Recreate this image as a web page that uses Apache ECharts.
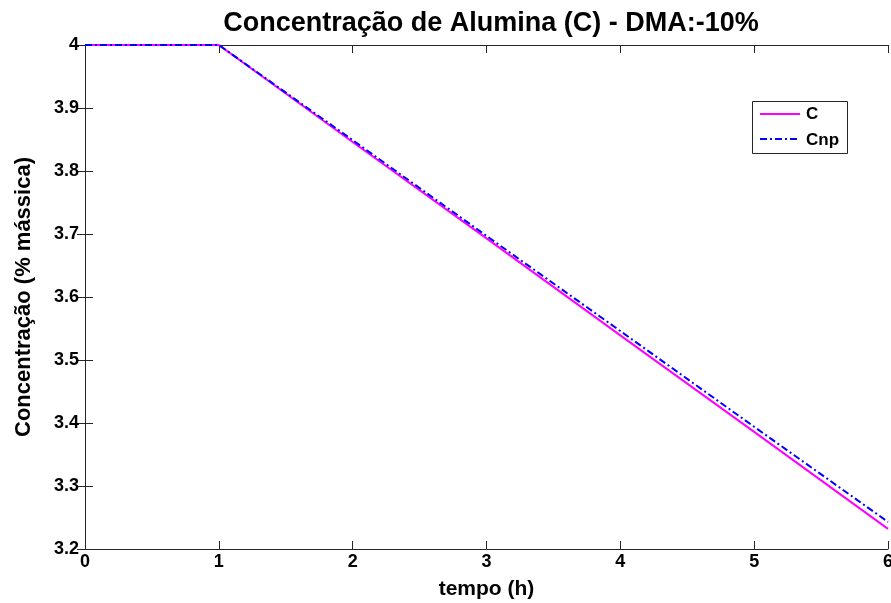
<!DOCTYPE html>
<html><head><meta charset="utf-8">
<script src="https://cdn.jsdelivr.net/npm/echarts@6/dist/echarts.min.js"></script>
<style>html,body{margin:0;padding:0;background:#fff}#c{width:891px;height:603px}</style>
</head><body><div id="c"></div>
<script>
const time = [0, 1, 2, 3, 4, 5, 6];
const C    = [4, 4, 3.846, 3.693, 3.539, 3.386, 3.232];
const Cnp  = [4, 4, 3.849, 3.697, 3.546, 3.394, 3.243];
const seriesNames = ['C', 'Cnp'];
const xTicks = [0, 1, 2, 3, 4, 5, 6];
const yTicks = [3.2, 3.3, 3.4, 3.5, 3.6, 3.7, 3.8, 3.9, 4];

const font = 'Liberation Sans, Arial, sans-serif';
const chart = echarts.init(document.getElementById('c'));
const axLine = {show: true, lineStyle: {color: '#262626', width: 1}};
const tick = {show: true, inside: true, length: 8, lineStyle: {color: '#262626'}};
const dashCnp = [7, 3, 2, 3];
chart.setOption({
  animation: false,
  backgroundColor: '#fff',
  title: {text: 'Concentração de Alumina (C) - DMA:-10%', left: 486, textAlign: 'center', top: 5,
    textStyle: {fontFamily: font, fontSize: 27, fontWeight: 'bold', color: '#000'}},
  grid: {left: 85, right: 3, top: 45, bottom: 54, containLabel: false, outerBoundsMode: 'none'},
  xAxis: [{
    type: 'value', min: 0, max: 6, interval: 1,
    name: 'tempo (h)', nameLocation: 'middle', nameGap: 30,
    nameTextStyle: {fontFamily: font, fontSize: 21, fontWeight: 'bold', color: '#000'},
    axisLine: axLine, axisTick: tick, splitLine: {show: false},
    axisLabel: {fontFamily: font, fontSize: 18, fontWeight: 'bold', color: '#000', margin: 4,
      formatter: v => xTicks.includes(v) ? String(v) : ''}
  }, {
    type: 'value', min: 0, max: 6, interval: 1, position: 'top',
    axisLine: axLine, axisTick: tick, axisLabel: {show: false}, splitLine: {show: false}
  }],
  yAxis: [{
    type: 'value', min: 3.2, max: 4, interval: 0.1,
    name: 'Concentração (% mássica)', nameLocation: 'middle', nameGap: 50, nameRotate: 90,
    nameTextStyle: {fontFamily: font, fontSize: 22, fontWeight: 'bold', color: '#000'},
    axisLine: axLine, axisTick: tick, splitLine: {show: false},
    axisLabel: {fontFamily: font, fontSize: 18, fontWeight: 'bold', color: '#000', margin: 6,
      formatter: v => { const r = Math.round(v * 10) / 10; return yTicks.includes(r) ? String(r) : ''; }}
  }, {
    type: 'value', min: 3.2, max: 4, interval: 0.1, position: 'right',
    axisLine: axLine, axisTick: tick, axisLabel: {show: false}, splitLine: {show: false}
  }],
  graphic: [
    {type: 'rect', shape: {x: 752.5, y: 101.5, width: 95, height: 52}, style: {fill: '#fff', stroke: '#262626', lineWidth: 1}, z: 100},
    {type: 'line', shape: {x1: 760, y1: 114, x2: 800, y2: 114}, style: {stroke: '#ff00ff', lineWidth: 2}, z: 101},
    {type: 'text', x: 806, y: 114, style: {text: seriesNames[0], font: 'bold 17px ' + font, fill: '#000', textVerticalAlign: 'middle'}, z: 101},
    {type: 'line', shape: {x1: 760, y1: 139, x2: 800, y2: 139}, style: {stroke: '#0000ff', lineWidth: 2, lineDash: dashCnp}, z: 101},
    {type: 'text', x: 806, y: 140, style: {text: seriesNames[1], font: 'bold 17px ' + font, fill: '#000', textVerticalAlign: 'middle'}, z: 101}
  ],
  series: [{
    name: seriesNames[0], type: 'line', showSymbol: false, symbol: 'none',
    data: time.map((t, i) => [t, C[i]]),
    lineStyle: {color: '#ff00ff', width: 2}
  }, {
    name: seriesNames[1], type: 'line', showSymbol: false, symbol: 'none',
    data: time.map((t, i) => [t, Cnp[i]]),
    lineStyle: {color: '#0000ff', width: 2, type: dashCnp}
  }]
});
</script></body></html>
